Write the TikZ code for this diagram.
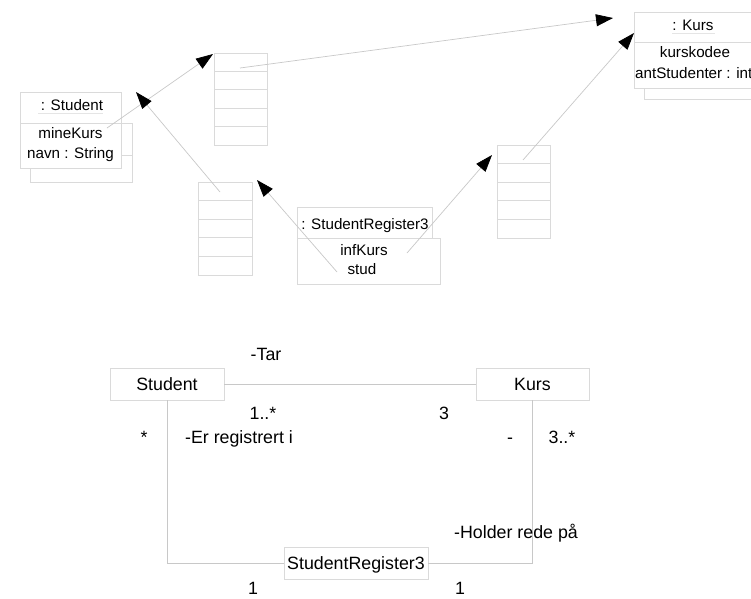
\documentclass[tikz,border=0pt]{standalone}
\usepackage{fontspec}
\setmainfont{Liberation Sans}
\usetikzlibrary{arrows.meta}
\definecolor{boxgray}{HTML}{DADADA}
\definecolor{linegray}{HTML}{C8C8C8}
\begin{document}
\begin{tikzpicture}[x=1pt,y=-1pt,
  box/.style={draw=boxgray, line width=0.8pt, fill=white},
  boxline/.style={draw=boxgray, line width=0.8pt},
  conn/.style={draw=linegray, line width=0.7pt},
  arr/.style={conn, -{Triangle[length=17pt,width=12pt,color=black]}},
  tf/.style={font=\fontsize{15.2}{18}\selectfont, anchor=base, inner sep=0pt},
  bf/.style={font=\fontsize{17.8}{21}\selectfont, anchor=base, inner sep=0pt},
  cls/.style={box, inner sep=0pt, font=\fontsize{17.8}{21}\selectfont, text depth=0pt}]
\useasboundingbox (0,0) rectangle (751,598);
\clip (0,0) rectangle (751,598);

% ---------- Student object ----------
\draw[box] (30,123) rectangle (132,182);
\draw[boxline] (121,155) -- (132,155);
\draw[box] (20,92) rectangle (121,123);
\draw[box] (20,123) rectangle (121,168);
\node[tf] (oStud) at (72,110) {: Student};
\draw[boxline, draw=boxgray!70] (38,113) -- (103,113);
\node[tf] (mineKurs) at (70.5,138) {mineKurs};
\node[tf] (navn) at (70.5,158) {navn : String};

% ---------- Kurs object ----------
\draw[box] (644,42) rectangle (770,99);
\draw[box] (634,12) rectangle (760,42);
\draw[box] (634,42) rectangle (760,88);
\node[tf] (oKurs) at (693,30) {: Kurs};
\draw[boxline, draw=boxgray!70] (672,33) -- (715,33);
\node[tf] (kurskode) at (695,57) {kurskodee};
\node[tf, anchor=base west] (antStud) at (635,78) {antStudenter : int};

% ---------- StudentRegister3 object ----------
\draw[box] (297,207) rectangle (432,238);
\draw[box] (297,238) rectangle (440,284);
\node[tf] (oReg) at (365,229) {: StudentRegister3};
\node[tf] (infKurs) at (364,255) {infKurs};
\node[tf] (stud) at (362,274) {stud};

% ---------- arrays ----------
\node[box, anchor=north west, minimum width=53pt, minimum height=92pt, inner sep=0pt] (arrA) at (214,53) {};
\foreach \k in {1,...,4} \draw[boxline] (214,{53+18.4*\k}) -- (267,{53+18.4*\k});
\node[box, anchor=north west, minimum width=54pt, minimum height=93pt, inner sep=0pt] (arrB) at (198,182) {};
\foreach \k in {1,...,4} \draw[boxline] (198,{182+18.6*\k}) -- (252,{182+18.6*\k});
\node[box, anchor=north west, minimum width=53pt, minimum height=93pt, inner sep=0pt] (arrC) at (497,145) {};
\foreach \k in {1,...,4} \draw[boxline] (497,{145+18.6*\k}) -- (550,{145+18.6*\k});

% ---------- references ----------
\coordinate (tMine) at (107,128);  \coordinate (hMine) at (213,54);
\coordinate (tArrB) at (220,192);  \coordinate (hArrB) at (136,92);
\coordinate (tArrA) at (240,68);   \coordinate (hArrA) at (613,18);
\coordinate (tArrC) at (523,160);  \coordinate (hArrC) at (634,33);
\coordinate (tInf) at (407,253);   \coordinate (hInf) at (492,155);
\coordinate (tStud) at (337,272);  \coordinate (hStud) at (257,180);
\draw[arr] (tMine) -- (hMine);
\draw[arr] (tArrB) -- (hArrB);
\draw[arr] (tArrA) -- (hArrA);
\draw[arr] (tArrC) -- (hArrC);
\draw[arr] (tInf) -- (hInf);
\draw[arr] (tStud) -- (hStud);

% ---------- class diagram ----------
\node[cls, minimum width=114pt, minimum height=32pt] (cStud) at (167,384) {Student};
\node[cls, minimum width=113pt, minimum height=32pt] (cKurs) at (532.5,384) {Kurs};
\node[cls, minimum width=144pt, minimum height=32pt] (cReg) at (356,563) {StudentRegister3};
\draw[conn] (cStud.east) -- (cKurs.west);
\draw[conn] (cStud.south) |- (cReg.west);
\draw[conn] (cKurs.south) |- (cReg.east);

\node[bf] (lTar) at (266,360) {-Tar};
\node[bf] (m1) at (263,419) {1..*};
\node[bf] (m2) at (444,419) {3};
\node[bf] (m3) at (144,443) {*};
\node[bf] (lEr) at (239,443) {-Er registrert i};
\node[bf] (m4) at (510,443) {-};
\node[bf] (m5) at (562,443) {3..*};
\node[bf] (lHold) at (516,538) {-Holder rede på};
\node[bf] (m6) at (253,594) {1};
\node[bf] (m7) at (460,594) {1};
\end{tikzpicture}
\end{document}
